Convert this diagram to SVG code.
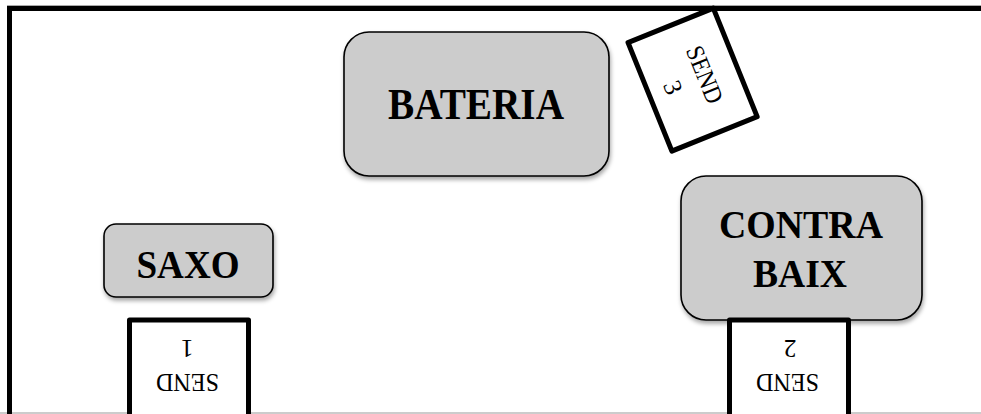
<svg xmlns="http://www.w3.org/2000/svg" width="981" height="414" viewBox="0 0 981 414">
  <style>
    .inst { fill: #cccccc; stroke: #000; stroke-width: 1.6; filter: url(#shadow); }
    .lbl { font-family: "Liberation Serif", "Times New Roman", serif; font-weight: bold; font-size: 41px; fill: #000; text-anchor: middle; }
    .send { fill: #fff; stroke: #000; stroke-width: 5; stroke-linejoin: round; }
    .stxt { font-family: "Liberation Serif", "Times New Roman", serif; font-size: 25.5px; fill: #000; text-anchor: middle; }
  </style>
  <defs>
    <filter id="shadow" x="-10%" y="-10%" width="125%" height="130%">
      <feDropShadow dx="1" dy="3" stdDeviation="2.2" flood-color="#000" flood-opacity="0.35"/>
    </filter>
  </defs>
  <rect x="0" y="0" width="981" height="414" fill="#fff"/>
  <g id="stage">
    <line x1="7" y1="5.5" x2="981" y2="5.5" stroke="#aaa" stroke-width="1"/>
    <line x1="0" y1="413" x2="981" y2="413" stroke="#bbb" stroke-width="1.5"/>
    <path d="M9.5 414 V8.5 H985" fill="none" stroke="#000" stroke-width="5"/>
  </g>
  <g id="connectors"></g>
  <g id="bateria">
    <rect class="inst" x="344" y="32" width="265" height="144" rx="25" ry="25"/>
    <text class="lbl" x="476" y="119" textLength="176" lengthAdjust="spacingAndGlyphs" style="font-size:44px">BATERIA</text>
  </g>
  <g id="saxo">
    <rect class="inst" x="104" y="224" width="169" height="73" rx="12" ry="12"/>
    <text class="lbl" x="188" y="278" textLength="103" lengthAdjust="spacingAndGlyphs">SAXO</text>
  </g>
  <g id="contrabaix">
    <rect class="inst" x="681" y="176" width="241" height="144" rx="25" ry="25"/>
    <text class="lbl" x="801" y="238" textLength="164" lengthAdjust="spacingAndGlyphs">CONTRA</text>
    <text class="lbl" x="800" y="287" textLength="94" lengthAdjust="spacingAndGlyphs">BAIX</text>
  </g>
  <g id="send3" transform="translate(692.6 79.6) rotate(68)">
    <rect class="send" x="-58.5" y="-46" width="117" height="92"/>
    <text class="stxt" x="0" y="-4.6" textLength="60" lengthAdjust="spacingAndGlyphs">SEND</text>
    <text class="stxt" x="0" y="29.5">3</text>
  </g>
  <g id="send1" transform="translate(189 369) rotate(180)">
    <rect class="send" x="-59.5" y="-100" width="119" height="149"/>
    <text class="stxt" x="1.5" y="-4.6" textLength="63" lengthAdjust="spacingAndGlyphs">SEND</text>
    <text class="stxt" x="2" y="29.5">1</text>
  </g>
  <g id="send2" transform="translate(789 369) rotate(180)">
    <rect class="send" x="-59.5" y="-100" width="119" height="149"/>
    <text class="stxt" x="1.5" y="-4.6" textLength="63" lengthAdjust="spacingAndGlyphs">SEND</text>
    <text class="stxt" x="-1" y="29.5">2</text>
  </g>
</svg>
